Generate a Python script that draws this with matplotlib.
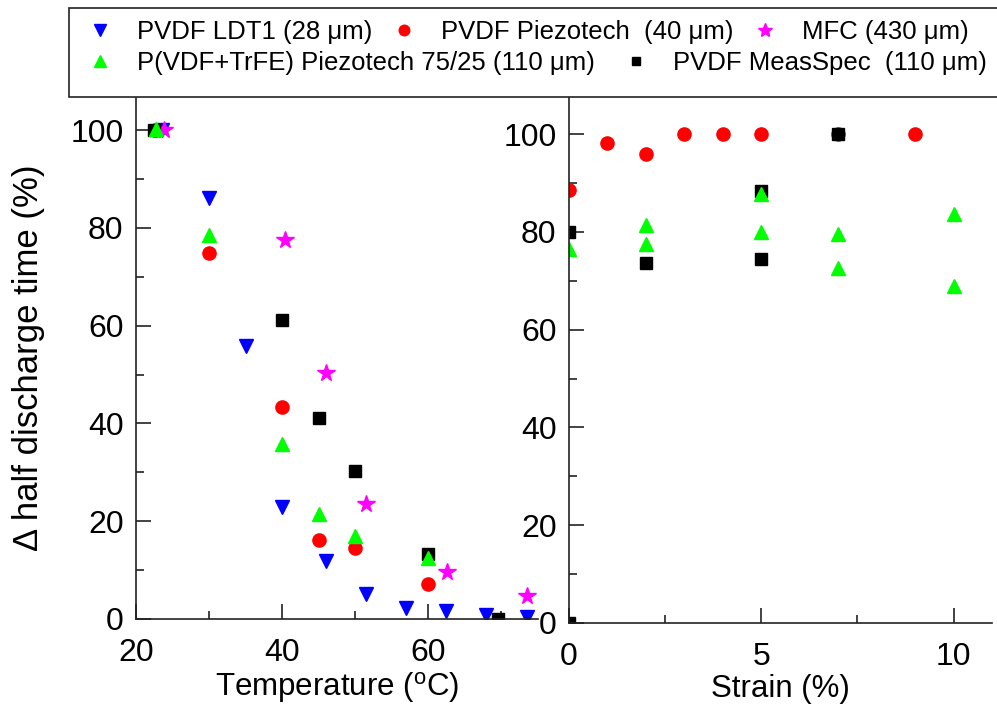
import matplotlib
matplotlib.use('Agg')
import matplotlib.pyplot as plt
from matplotlib.patches import Rectangle
from matplotlib.ticker import MultipleLocator

plt.rcParams['font.family'] = ['Liberation Sans', 'DejaVu Sans']
plt.rcParams['mathtext.fontset'] = 'custom'
plt.rcParams['mathtext.rm'] = 'Liberation Sans'

# left panel: temperature
temp_ldt1 = [23.5, 30, 35, 40, 46, 51.5, 57, 62.5, 68, 73.6]
dt_ldt1 = [100, 86.1, 55.8, 23.0, 11.9, 5.2, 2.3, 1.7, 0.8, 0.4]
temp_piezo = [22.6, 30, 40, 45, 50, 60]
dt_piezo = [100, 74.8, 43.4, 16.2, 14.6, 7.2]
temp_mfc = [23.8, 40.4, 46, 51.5, 62.6, 73.6]
dt_mfc = [100, 77.5, 50.3, 23.5, 9.6, 4.7]
temp_meas = [22.5, 40, 45, 50, 60, 69.6]
dt_meas = [100, 61.1, 41.1, 30.3, 13.4, 0]
temp_trfe = [22.7, 30, 40, 45, 50, 60]
dt_trfe = [100.2, 78.5, 35.8, 21.5, 17.0, 12.4]

# right panel: strain
strain_piezo = [0, 1, 2, 3, 4, 5, 7, 9]
st_piezo = [88.5, 98.2, 95.9, 100, 100, 100, 100, 100]
strain_meas = [0, 0, 2, 5, 5, 7]
st_meas = [0, 80, 73.6, 88.3, 74.4, 100]
strain_trfe = [0, 2, 2, 5, 5, 7, 7, 10, 10]
st_trfe = [76.5, 81.4, 77.5, 87.8, 80.0, 79.5, 72.6, 83.6, 68.9]

labels = ['PVDF LDT1 (28 \u03bcm)', 'PVDF Piezotech  (40 \u03bcm)', 'MFC (430 \u03bcm)',
          'P(VDF+TrFE) Piezotech 75/25 (110 \u03bcm)', 'PVDF MeasSpec  (110 \u03bcm)']

W, H = 997, 704
fig = plt.figure(figsize=(W / 100, H / 100), dpi=100)
ax1 = fig.add_axes([136 / W, (H - 619) / H, (537.5 - 136) / W, (619 - 96) / H])
ax2 = fig.add_axes([569 / W, (H - 623) / H, (992 - 569) / W, (623 - 96) / H])

st = dict(ls='none')
h1, = ax1.plot(temp_ldt1, dt_ldt1, marker='v', color='#0000ff', ms=10, **st)
h2, = ax1.plot(temp_piezo, dt_piezo, marker='o', color='#ff0000', ms=9.5, **st)
h3, = ax1.plot(temp_mfc, dt_mfc, marker='*', color='#ff00ff', ms=13, **st)
h5, = ax1.plot(temp_meas, dt_meas, marker='s', color='black', ms=8, **st)
h4, = ax1.plot(temp_trfe, dt_trfe, marker='^', color='#00ff00', ms=10, **st)

ax2.plot(strain_piezo, st_piezo, marker='o', color='#ff0000', ms=9.5, **st)
ax2.plot(strain_meas, st_meas, marker='s', color='black', ms=8, **st)
ax2.plot(strain_trfe, st_trfe, marker='^', color='#00ff00', ms=10, **st)

ax1.set_xlim(20, 75)
ax1.set_ylim(0, 107)
ax2.set_xlim(0, 11)
ax2.set_ylim(0, 107.8)
ax1.xaxis.set_major_locator(MultipleLocator(20))
ax1.xaxis.set_minor_locator(MultipleLocator(10))
ax2.xaxis.set_major_locator(MultipleLocator(5))
ax2.xaxis.set_minor_locator(MultipleLocator(2.5))
for ax in (ax1, ax2):
    ax.yaxis.set_major_locator(MultipleLocator(20))
    ax.yaxis.set_minor_locator(MultipleLocator(10))
    ax.spines['top'].set_visible(False)
    ax.spines['right'].set_visible(False)
    for s in ('left', 'bottom'):
        ax.spines[s].set_linewidth(1.2)
        ax.spines[s].set_color('#222222')
    ax.tick_params(which='both', direction='in', width=1.2, color='#222222')
    ax.tick_params(which='major', length=11, labelsize=23)
    ax.tick_params(which='minor', length=6)
    ax.tick_params(axis='y', which='major', pad=9)
    ax.tick_params(axis='x', which='major', pad=14)

ax1.set_xlabel('Temperature ($^\\mathrm{o}$C)', fontsize=22.5, labelpad=1)
ax2.set_xlabel('Strain (%)', fontsize=22.5, labelpad=1)
ax1.set_ylabel('\u0394 half discharge time (%)', fontsize=25, labelpad=18)

# legend box
fig.add_artist(Rectangle((69 / W, (H - 97) / H), 1.0, 89 / H, transform=fig.transFigure,
                         facecolor='white', edgecolor='#222222', lw=1.2, zorder=5))
leg_kw = dict(frameon=False, fontsize=18.5, loc='center left', borderpad=0, borderaxespad=0,
              handlelength=1.0, handletextpad=0.95, markerscale=0.8)
l1 = fig.legend([h1, h2, h3], labels[:3], ncol=3, columnspacing=0.72,
                bbox_to_anchor=(87 / W, (H - 32) / H), **leg_kw)
l2 = fig.legend([h4, h5], labels[3:], ncol=2, columnspacing=1.1,
                bbox_to_anchor=(87 / W, (H - 63) / H), **leg_kw)
l1.set_zorder(6)
l2.set_zorder(6)

fig.savefig('out.png', dpi=100)
